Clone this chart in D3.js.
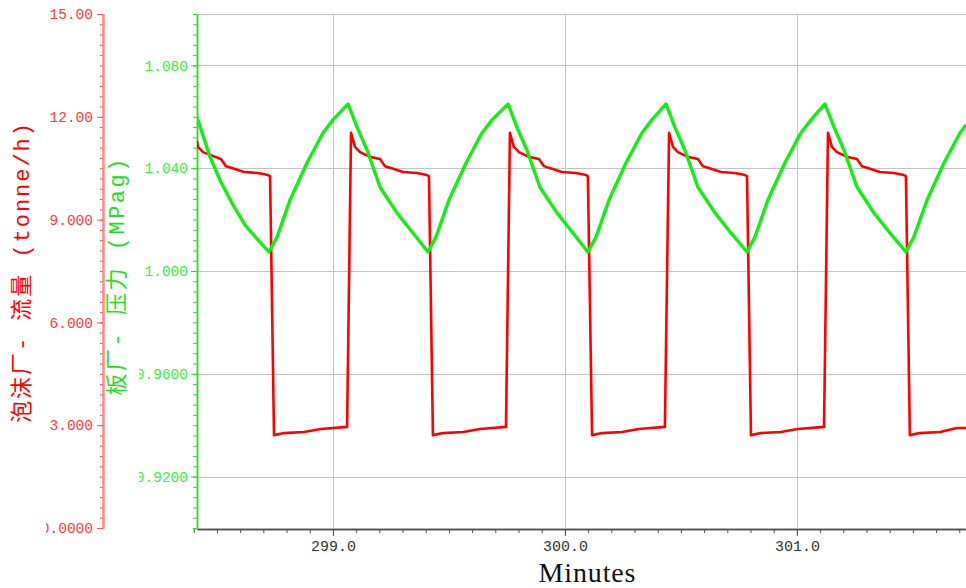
<!DOCTYPE html>
<html>
<head>
<meta charset="utf-8">
<script src="https://cdn.jsdelivr.net/npm/d3@7"></script>
<style>
  body { margin: 0; background: #fff; }
  #trend svg { display: block; }
</style>
</head>
<body>
<div id="trend"></div>
<script>
// [minute, tonne/h]
const flowPoints = [
  [298.414, 11.30], [298.418, 11.12], [298.440, 10.97], [298.470, 10.89],
  [298.517, 10.77], [298.539, 10.56], [298.561, 10.51], [298.617, 10.39],
  [298.677, 10.36], [298.720, 10.30], [298.729, 10.27], [298.746, 2.71],
  [298.789, 2.77], [298.875, 2.80], [298.948, 2.89], [299.061, 2.95],
  [299.078, 11.53], [299.095, 11.12], [299.117, 10.97], [299.160, 10.83],
  [299.203, 10.77], [299.224, 10.56], [299.246, 10.51], [299.302, 10.39],
  [299.362, 10.36], [299.405, 10.30], [299.414, 10.27], [299.431, 2.71],
  [299.474, 2.77], [299.561, 2.80], [299.634, 2.89], [299.746, 2.95],
  [299.763, 11.53], [299.780, 11.12], [299.802, 10.97], [299.845, 10.83],
  [299.888, 10.77], [299.910, 10.56], [299.931, 10.51], [299.987, 10.39],
  [300.048, 10.36], [300.091, 10.30], [300.099, 10.27], [300.117, 2.71],
  [300.160, 2.77], [300.246, 2.80], [300.319, 2.89], [300.431, 2.95],
  [300.449, 11.53], [300.466, 11.12], [300.487, 10.97], [300.530, 10.83],
  [300.573, 10.77], [300.595, 10.56], [300.617, 10.51], [300.673, 10.39],
  [300.733, 10.36], [300.776, 10.30], [300.785, 10.27], [300.802, 2.71],
  [300.845, 2.77], [300.931, 2.80], [301.004, 2.89], [301.117, 2.95],
  [301.134, 11.53], [301.151, 11.12], [301.173, 10.97], [301.216, 10.83],
  [301.259, 10.77], [301.280, 10.56], [301.302, 10.51], [301.358, 10.39],
  [301.418, 10.36], [301.461, 10.30], [301.470, 10.27], [301.487, 2.71],
  [301.530, 2.77], [301.617, 2.80], [301.690, 2.92], [301.729, 2.92],
];

// [minute, MPag]
const pressurePoints = [
  [298.414, 1.0599], [298.470, 1.0444], [298.513, 1.0354], [298.569, 1.0257],
  [298.621, 1.0179], [298.677, 1.0121], [298.724, 1.0074], [298.759, 1.0132],
  [298.815, 1.0276], [298.888, 1.0420], [298.957, 1.0537], [299.000, 1.0588],
  [299.065, 1.0650], [299.104, 1.0560], [299.147, 1.0471], [299.203, 1.0327],
  [299.276, 1.0226], [299.345, 1.0148], [299.410, 1.0074], [299.444, 1.0132],
  [299.500, 1.0276], [299.574, 1.0420], [299.642, 1.0537], [299.686, 1.0588],
  [299.755, 1.0650], [299.793, 1.0560], [299.836, 1.0471], [299.892, 1.0327],
  [299.966, 1.0226], [300.035, 1.0148], [300.099, 1.0074], [300.134, 1.0132],
  [300.190, 1.0276], [300.263, 1.0420], [300.332, 1.0537], [300.375, 1.0588],
  [300.436, 1.0650], [300.474, 1.0560], [300.517, 1.0471], [300.573, 1.0327],
  [300.647, 1.0226], [300.716, 1.0148], [300.785, 1.0074], [300.819, 1.0132],
  [300.875, 1.0276], [300.948, 1.0420], [301.017, 1.0537], [301.061, 1.0588],
  [301.121, 1.0650], [301.160, 1.0560], [301.203, 1.0471], [301.259, 1.0327],
  [301.332, 1.0226], [301.401, 1.0148], [301.470, 1.0074], [301.504, 1.0132],
  [301.561, 1.0276], [301.634, 1.0420], [301.703, 1.0537], [301.729, 1.0568],
];

const minuteDomain = [298.414, 301.729];
const flowDomain = [0, 15];
const pressureDomain = [0.9, 1.1];

const minuteTicks = [299, 300, 301];
const minuteTickLabels = ["299.0", "300.0", "301.0"];
const flowTicks = [0, 3, 6, 9, 12, 15];
const flowTickLabels = ["0.0000", "3.000", "6.000", "9.000", "12.00", "15.00"];
const pressureTicks = [0.92, 0.96, 1.0, 1.04, 1.08];
const pressureTickLabels = ["0.9200", "0.9600", "1.000", "1.040", "1.080"];

const flowTitle = "泡沫厂- 流量 (tonne/h)";
const pressureTitle = "板厂- 压力 (MPag)";
const minuteTitle = "Minutes";

const tickFont = "'Liberation Mono', 'DejaVu Sans Mono', monospace";

class TrendChart {
  constructor({ flow, pressure }) {
    this.flow = flow;
    this.pressure = pressure;
    this.init();
  }

  init() {
    this.width = 966;
    this.height = 588;
    this.plot = { left: 197, right: 966, top: 14, bottom: 528 };
    this.flowAxisX = 103;

    this.x = d3.scaleLinear().domain(minuteDomain)
      .range([this.plot.left, this.plot.right]);
    this.yFlow = d3.scaleLinear().domain(flowDomain)
      .range([this.plot.bottom, this.plot.top]);
    this.yPressure = d3.scaleLinear().domain(pressureDomain)
      .range([this.plot.bottom, this.plot.top]);

    this.svg = d3.select("#trend").append("svg")
      .attr("width", this.width)
      .attr("height", this.height);

    // clip rects in page coordinates; applied to untransformed wrappers
    const defs = this.svg.append("defs");
    defs.append("clipPath").attr("id", "plot-clip")
      .append("rect")
      .attr("x", this.plot.left)
      .attr("y", this.plot.top - 2)
      .attr("width", this.plot.right - this.plot.left)
      .attr("height", this.plot.bottom - this.plot.top + 2);
    defs.append("clipPath").attr("id", "flow-clip")
      .append("rect").attr("x", 46).attr("y", 0).attr("width", 80).attr("height", 560);
    defs.append("clipPath").attr("id", "pressure-clip")
      .append("rect").attr("x", 139).attr("y", 0).attr("width", 80).attr("height", 560);

    this.render();
  }

  styleTicks(g, color, size) {
    g.selectAll(".tick text")
      .attr("fill", color)
      .style("font-family", tickFont)
      .style("font-size", size);
  }

  render() {
    const { plot } = this;

    // grid
    const grid = this.svg.append("g").attr("stroke", "#c4c4c4").attr("stroke-width", 1);
    grid.selectAll(".vgrid").data(minuteTicks).join("line")
      .attr("x1", (d) => Math.round(this.x(d)) + 0.5)
      .attr("x2", (d) => Math.round(this.x(d)) + 0.5)
      .attr("y1", plot.top).attr("y2", plot.bottom);
    grid.selectAll(".hgrid").data(pressureTicks.concat([pressureDomain[1]])).join("line")
      .attr("x1", plot.left).attr("x2", plot.right)
      .attr("y1", (d) => Math.round(this.yPressure(d)) + 0.5)
      .attr("y2", (d) => Math.round(this.yPressure(d)) + 0.5);

    // x axis
    const minorMinutes = d3.range(0, 34).map((i) => 298.4 + i * 0.1);
    const xAxis = this.svg.append("g")
      .attr("transform", `translate(0,${plot.bottom + 1})`);
    xAxis.append("g")
      .call(d3.axisBottom(this.x).tickValues(minorMinutes).tickSize(4)
        .tickSizeOuter(0).tickFormat(""));
    xAxis.append("g")
      .call(d3.axisBottom(this.x).tickValues(minuteTicks).tickSize(7)
        .tickSizeOuter(0).tickPadding(4)
        .tickFormat((d, i) => minuteTickLabels[i]));
    xAxis.selectAll(".domain").attr("stroke", "#505050").attr("stroke-width", 1.5);
    xAxis.selectAll(".tick line").attr("stroke", "#505050");
    this.styleTicks(xAxis, "#333", "15px");

    this.svg.append("text")
      .attr("x", 587)
      .attr("y", 582)
      .attr("text-anchor", "middle")
      .attr("textLength", 97)
      .attr("fill", "#111")
      .style("font-family", "'Liberation Serif', serif")
      .style("font-size", "28px")
      .text(minuteTitle);

    // flow axis (red, outer)
    const minorFlow = d3.range(0, 51).map((i) => i * 0.3);
    const flowAxis = this.svg.append("g")
      .attr("clip-path", "url(#flow-clip)")
      .append("g")
      .attr("transform", `translate(${this.flowAxisX},0)`);
    flowAxis.append("g")
      .call(d3.axisLeft(this.yFlow).tickValues(minorFlow).tickSize(3)
        .tickSizeOuter(0).tickFormat(""));
    flowAxis.append("g")
      .call(d3.axisLeft(this.yFlow).tickValues(flowTicks).tickSize(6)
        .tickSizeOuter(0).tickPadding(4)
        .tickFormat((d, i) => flowTickLabels[i]));
    flowAxis.selectAll(".domain").attr("stroke", "#ff8a8a").attr("stroke-width", 2);
    flowAxis.selectAll(".tick line").attr("stroke", "#ff5050");
    this.styleTicks(flowAxis, "#ff3b3b", "14.5px");

    this.svg.append("text")
      .attr("transform", "translate(23,273) rotate(-90)")
      .attr("text-anchor", "middle")
      .attr("dominant-baseline", "central")
      .attr("textLength", 300)
      .attr("lengthAdjust", "spacing")
      .attr("fill", "#ff0000")
      .style("font-family", "'Liberation Mono', 'Noto Sans CJK SC', monospace")
      .style("font-size", "22px")
      .text(flowTitle);

    // pressure axis (green, inner)
    const minorPressure = d3.range(0, 51).map((i) => 0.9 + i * 0.004);
    const pressureAxis = this.svg.append("g")
      .attr("clip-path", "url(#pressure-clip)")
      .append("g")
      .attr("transform", `translate(${plot.left},0)`);
    pressureAxis.append("g")
      .call(d3.axisLeft(this.yPressure).tickValues(minorPressure).tickSize(4)
        .tickSizeOuter(0).tickFormat(""));
    pressureAxis.append("g")
      .call(d3.axisLeft(this.yPressure).tickValues(pressureTicks).tickSize(6)
        .tickSizeOuter(0).tickPadding(3)
        .tickFormat((d, i) => pressureTickLabels[i]));
    pressureAxis.selectAll(".domain").attr("stroke", "#2fdc2f").attr("stroke-width", 1.5);
    pressureAxis.selectAll(".tick line").attr("stroke", "#2fdc2f");
    this.styleTicks(pressureAxis, "#3cf03c", "14.5px");

    this.svg.append("text")
      .attr("transform", "translate(118,277) rotate(-90)")
      .attr("text-anchor", "middle")
      .attr("dominant-baseline", "central")
      .attr("textLength", 237)
      .attr("lengthAdjust", "spacing")
      .attr("fill", "#22e022")
      .style("font-family", "'Liberation Mono', 'Noto Sans CJK SC', monospace")
      .style("font-size", "22px")
      .text(pressureTitle);

    // series
    const lines = this.svg.append("g").attr("clip-path", "url(#plot-clip)");
    const flowLine = d3.line()
      .x((d) => this.x(d[0]))
      .y((d) => this.yFlow(d[1]));
    const pressureLine = d3.line()
      .x((d) => this.x(d[0]))
      .y((d) => this.yPressure(d[1]));

    lines.append("path")
      .datum(this.flow)
      .attr("fill", "none")
      .attr("stroke", "#ff0000")
      .attr("stroke-width", 2.6)
      .attr("stroke-linejoin", "round")
      .attr("d", flowLine);
    lines.append("path")
      .datum(this.pressure)
      .attr("fill", "none")
      .attr("stroke", "#14ee14")
      .attr("stroke-width", 3.4)
      .attr("stroke-linejoin", "round")
      .attr("d", pressureLine);
  }
}

new TrendChart({ flow: flowPoints, pressure: pressurePoints });
</script>
</body>
</html>
